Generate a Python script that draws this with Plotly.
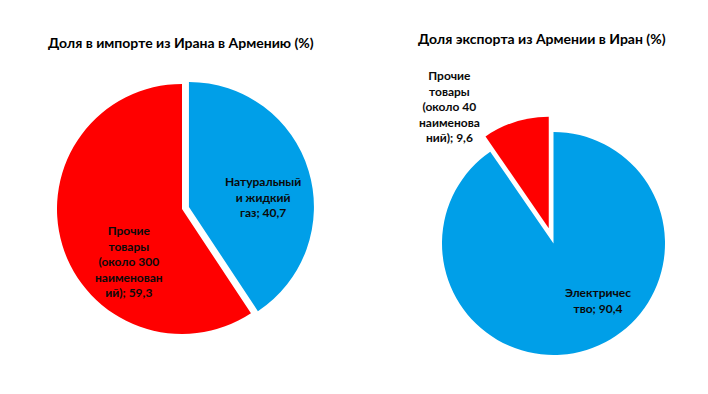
import plotly.graph_objects as go

# Left chart: import from Iran to Armenia
imp_labels = ["Натуральный<br>и жидкий<br>газ", "Прочие<br>товары<br>(около 300<br>наименован<br>ий)"]
imp_values = [40.7, 59.3]
imp_title = "Доля в импорте из Ирана в Армению (%)"

# Right chart: export from Armenia to Iran
exp_labels = ["Электричес<br>тво", "Прочие<br>товары<br>(около 40<br>наименова<br>ний)"]
exp_values = [90.4, 9.6]
exp_title = "Доля экспорта из Армении в Иран (%)"

BLUE = "#009FE8"
RED = "#FF0000"
FONT = "Lato, 'Noto Sans', sans-serif"

# page offset (body margin) and figure size
OX, OY = 8, 8
W, H = 700, 386


def px(x):
    return (x - OX) / W


def py(y):
    return 1 - (y - OY) / H


def dom(cx, cy, half):
    return dict(x=[px(cx - half), px(cx + half)], y=[py(cy + half), py(cy - half)])


def fmt(v):
    return f"{v:.1f}".replace(".", ",")


fig = go.Figure()
fig.add_trace(go.Pie(
    labels=imp_labels, values=imp_values, sort=False, direction="clockwise",
    rotation=0, pull=[0.058, 0], marker=dict(colors=[BLUE, RED], line=dict(width=0)),
    textinfo="none", domain=dom(182, 209, 125 * 1.058), showlegend=False,
    hoverinfo="label+value",
))
fig.add_trace(go.Pie(
    labels=exp_labels, values=exp_values, sort=False, direction="clockwise",
    rotation=0, pull=[0, 0.143], marker=dict(colors=[BLUE, RED], line=dict(width=0)),
    textinfo="none", domain=dom(553.5, 243.5, 111.5 * 1.143), showlegend=False,
    hoverinfo="label+value",
))

# label placement (pixel centers, as in the reference layout)
imp_label_pos = [(263, 197), (129, 261)]
exp_label_pos = [(598, 300), (449, 106)]

lab_font = dict(family=FONT, size=12, color="#0a0a0a")
annotations = []
for labels, values, pos in ((imp_labels, imp_values, imp_label_pos),
                            (exp_labels, exp_values, exp_label_pos)):
    for lab, val, (x, y) in zip(labels, values, pos):
        text = "<br>".join(f"<b>{ln}</b>" for ln in f"{lab}; {fmt(val)}".split("<br>"))
        annotations.append(dict(
            text=text, x=px(x), y=py(y), xref="paper", yref="paper",
            showarrow=False, xanchor="center", yanchor="middle", align="center",
            font=lab_font))

annotations += [
    dict(text=f"<b>{imp_title}</b>", x=px(181), y=py(43), xref="paper", yref="paper",
         showarrow=False, xanchor="center", yanchor="middle",
         font=dict(family=FONT, size=14, color="black")),
    dict(text=f"<b>{exp_title}</b>", x=px(542), y=py(38), xref="paper", yref="paper",
         showarrow=False, xanchor="center", yanchor="middle",
         font=dict(family=FONT, size=14, color="black")),
]

fig.update_layout(
    width=W, height=H, margin=dict(l=0, r=0, t=0, b=0),
    paper_bgcolor="white", plot_bgcolor="white",
    font=dict(family=FONT, color="black"),
    annotations=annotations,
)

fig.write_html("out.html")
